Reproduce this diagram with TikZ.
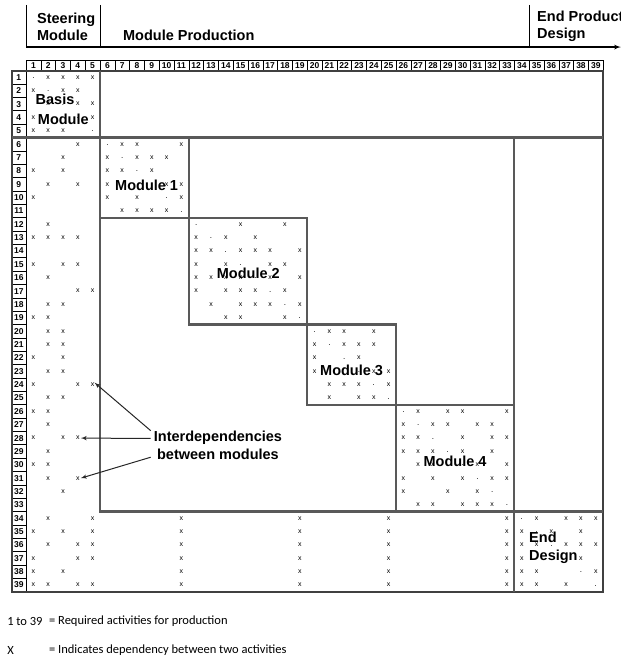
\documentclass[tikz,border=0pt]{standalone}
\usepackage{fontspec}
\setmainfont{Liberation Sans}
\newfontfamily\legendfont{Carlito}
\usetikzlibrary{arrows}

\begin{document}
\begin{tikzpicture}[x=14.8pt,y=-13.36pt,
  dep/.style={font=\fontsize{7}{7}\selectfont,inner sep=0pt},
  diag/.style={font=\fontsize{8}{8}\selectfont,inner sep=0pt},
  hdr/.style={font=\fontsize{8.5}{8.5}\selectfont\bfseries,inner sep=0pt},
  block/.style={line width=2.2pt,black!65},
  title/.style={font=\fontsize{14.5}{17}\selectfont\bfseries,align=left,anchor=west,inner sep=0pt},
  modlabel/.style={font=\fontsize{14.5}{18.5}\selectfont\bfseries,inner sep=0pt,align=left},
  legend/.style={font=\fontsize{12.5}{13}\selectfont\legendfont,anchor=west,inner sep=0pt}]
\useasboundingbox (-1.757,-5.292) rectangle (40.203,44.11);

% one row of dependencies
\newcommand{\xdeps}[2]{
  \foreach \c in {#2}
    \node[dep] (x-#1-\c) at (\c-0.5,#1-0.5) {x};
}

% phases on top
\draw[line width=0.9pt] (0,-4.92) -- (0,-1.77);
\draw[line width=0.9pt] (5,-4.92) -- (5,-1.77);
\draw[line width=0.9pt] (34.05,-4.92) -- (34.05,-1.77);
\coordinate (axis-start) at (0,-1.77);
\coordinate (axis-end) at (40.2,-1.77);
\draw[line width=1.3pt, arrows={-latex'}] (axis-start) -- (axis-end);
\node[title] (steer) at (0.74,-3.31) {Steering\\Module};
\node[title] (prod) at (6.55,-2.67) {Module Production};
\node[title] (endprod) at (34.53,-3.31) {End Product\\Design};

% column numbers and row numbers
\foreach \c in {1,...,39} {
  \draw[line width=0.5pt] (\c-1,-0.8) rectangle (\c,0);
  \node[hdr] (h-\c) at (\c-0.5,-0.4) {\c};
}
\foreach \r in {1,...,39} {
  \draw[line width=0.6pt] (-0.966,\r-1) rectangle (0,\r);
  \node[hdr] (r-\r) at (-0.483,\r-0.5) {\r};
}

% diagonal
\foreach \r in {1,...,39}
  \node[diag] (d-\r) at (\r-0.5,\r-0.45) {.};

\xdeps{1}{2,3,4,5}
\xdeps{2}{1,3,4}
\xdeps{3}{2,4,5}
\xdeps{4}{1,5}
\xdeps{5}{1,2,3}
\xdeps{6}{4,7,8,11}
\xdeps{7}{3,6,8,9,10}
\xdeps{8}{1,3,6,7,9}
\xdeps{9}{2,4,6,10,11}
\xdeps{10}{1,6,8,11}
\xdeps{11}{7,8,9,10}
\xdeps{12}{2,15,18}
\xdeps{13}{1,2,3,4,12,14,16}
\xdeps{14}{12,13,15,16,17,19}
\xdeps{15}{1,3,4,12,14,17,18}
\xdeps{16}{2,12,13,14,15,17,19}
\xdeps{17}{4,5,12,14,15,16,18}
\xdeps{18}{2,3,13,15,16,17,19}
\xdeps{19}{1,2,14,15,18}
\xdeps{20}{2,3,21,22,24}
\xdeps{21}{2,3,20,22,23,24}
\xdeps{22}{1,3,20,23}
\xdeps{23}{2,3,20,24,25}
\xdeps{24}{1,4,5,21,22,23,25}
\xdeps{25}{2,3,21,23,24}
\xdeps{26}{1,2,27,29,30,33}
\xdeps{27}{2,26,28,29,31,32}
\xdeps{28}{1,3,4,26,27,30,32,33}
\xdeps{29}{2,26,27,28,30,32}
\xdeps{30}{1,2,27,28,31,33}
\xdeps{31}{2,4,26,28,30,32,33}
\xdeps{32}{3,26,29,31}
\xdeps{33}{27,28,30,31,32}
\xdeps{34}{2,5,11,19,25,33,35,37,38,39}
\xdeps{35}{1,3,5,11,19,25,33,34,36,38}
\xdeps{36}{2,4,5,11,19,25,33,34,35,37,38,39}
\xdeps{37}{1,4,5,11,19,25,33,34,38}
\xdeps{38}{1,3,11,19,25,33,34,35,39}
\xdeps{39}{1,2,4,5,11,19,25,33,34,35,37}

% module blocks
\draw[line width=1.6pt,black!75] (-0.966,0) rectangle (39,39);
\draw[block] (-0.966,5) -- (39,5);
\draw[block] (5,0) -- (5,33) -- (39,33);
\draw[block] (33,5) -- (33,39);
\draw[block] (5,5) rectangle (11,11);
\draw[block] (11,11) rectangle (19,19);
\draw[block] (19,19) rectangle (25,25);
\draw[block] (25,25) rectangle (33,33);

\node[modlabel] (basis-a) at (1.96,2.14) {Basis};
\node[modlabel] (basis-b) at (2.52,3.62) {Module};
\node[modlabel] (mod1) at (8.15,8.56) {Module 1};
\node[modlabel] (mod2) at (15.02,15.17) {Module 2};
\node[modlabel] (mod3) at (22.0,22.4) {Module 3};
\node[modlabel] (mod4) at (28.99,29.27) {Module 4};
\node[modlabel,anchor=west] (enddes) at (33.99,35.7) {End\\Design};

% interfaces between modules
\node[modlabel,align=center] (inter) at (12.97,28.05) {Interdependencies\\between modules};
\draw[line width=1pt,black!85,arrows={-latex'}] ([xshift=-3pt]inter.north west) -- (x-24-5.north east);
\draw[line width=1pt,black!85,arrows={-latex'}] ([xshift=-3pt,yshift=7pt]inter.west) -- ([xshift=1pt]x-28-4.east);
\draw[line width=1pt,black!85,arrows={-latex'}] ([xshift=-3pt,yshift=3pt]inter.south west) -- ([xshift=1pt]x-31-4.east);

% legend
\node[legend] (leg-a) at (-1.28,41.2) {1 to 39};
\node[legend] (leg-b) at (1.55,41.2) {= Required activities for production};
\node[legend] (leg-c) at (-1.28,43.37) {X};
\node[legend] (leg-d) at (1.55,43.37) {= Indicates dependency between two activities};

\end{tikzpicture}
\end{document}
